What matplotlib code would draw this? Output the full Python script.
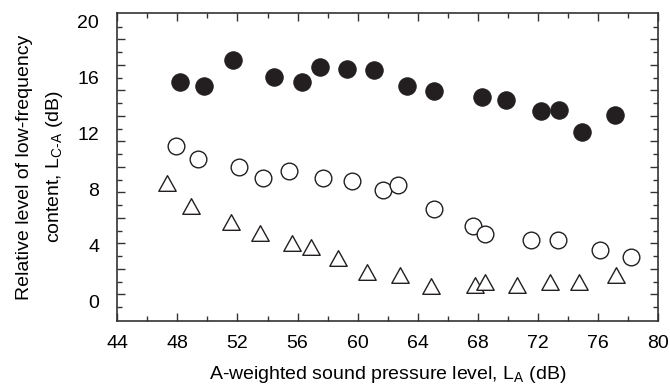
import numpy as np
import matplotlib
matplotlib.use('Agg')
import matplotlib.pyplot as plt
from matplotlib.path import Path

plt.rcParams['font.family'] = ['Liberation Sans', 'DejaVu Sans']
plt.rcParams['mathtext.fontset'] = 'custom'
plt.rcParams['mathtext.rm'] = 'Liberation Sans'
plt.rcParams['mathtext.it'] = 'Liberation Sans'

# filled circles
la_filled = [48.2, 49.8, 51.7, 54.4, 56.3, 57.5, 59.3, 61.1, 63.3, 65.1, 68.3, 69.9, 72.2, 73.4, 74.9, 77.1]
lca_filled = [15.7, 15.4, 17.2, 16.0, 15.7, 16.7, 16.6, 16.5, 15.4, 15.0, 14.6, 14.4, 13.6, 13.7, 12.1, 13.3]

# open circles
la_open = [47.9, 49.4, 52.1, 53.7, 55.4, 57.7, 59.6, 61.7, 62.7, 65.1, 67.7, 68.5, 71.5, 73.3, 76.1, 78.2]
lca_open = [11.1, 10.2, 9.6, 8.8, 9.3, 8.8, 8.6, 8.0, 8.3, 6.6, 5.4, 4.8, 4.4, 4.4, 3.7, 3.2]

# open triangles
la_tri = [47.3, 48.9, 51.6, 53.5, 55.6, 56.9, 58.7, 60.6, 62.8, 64.9, 67.8, 68.5, 70.6, 72.8, 74.7, 77.2]
lca_tri = [8.5, 6.8, 5.7, 4.9, 4.2, 3.9, 3.1, 2.1, 1.9, 1.1, 1.2, 1.4, 1.2, 1.4, 1.4, 1.9]

x_ticks = list(range(44, 81, 4))
y_ticks = list(range(0, 21, 4))

ink = '#231f20'
tri = Path([(-1, -0.9), (1, -0.9), (0, 0.9), (-1, -0.9)], closed=True)

fig = plt.figure(figsize=(6.7, 3.85), dpi=100)
ax = fig.add_axes([0.175, 0.167, 0.8075, 0.7984])

ax.plot(la_filled, lca_filled, 'o', ms=12.5, mfc=ink, mec=ink, mew=0.8, ls='none')
ax.plot(la_open, lca_open, 'o', ms=12, mfc='white', mec=ink, mew=1.0, ls='none')
ax.plot(la_tri, lca_tri, marker=tri, ms=12.5, mfc='white', mec=ink, mew=1.0, ls='none')

ax.set_xlim(44, 80)
ax.set_ylim(-1.35, 20.56)

for s in ax.spines.values():
    s.set_linewidth(1.2)
    s.set_color('#333333')

# x ticks: inward, both top and bottom
ax.set_xticks(x_ticks)
ax.set_xticks(np.arange(44, 81, 2), minor=True)
ax.tick_params(axis='x', which='both', direction='in', top=True, bottom=True,
               labelsize=14, pad=10, color='#333333', width=1.0)
ax.tick_params(axis='x', which='major', length=6)
ax.tick_params(axis='x', which='minor', length=3.5)

# y tick marks (the original marks sit on their own spacing)
step = 1.8175
long_marks = 0.53 + step * np.arange(11)
short_marks = 0.53 - step / 2 + step * np.arange(12)
ax.set_yticks(long_marks)
ax.set_yticks(short_marks, minor=True)
ax.tick_params(axis='y', which='both', direction='in', left=True, right=True,
               labelleft=False, color='#333333', width=1.0)
ax.tick_params(axis='y', which='major', length=6)
ax.tick_params(axis='y', which='minor', length=3.5)

# y tick labels
sec = ax.secondary_yaxis('left')
sec.set_yticks(y_ticks)
sec.tick_params(length=0, labelsize=14, pad=13)
sec.spines['left'].set_visible(False)

ax.set_xlabel(r'A-weighted sound pressure level, L$_{\text{A}}$ (dB)', fontsize=14)
ax.xaxis.set_label_coords(0.5, -0.14)
ax.set_ylabel('Relative level of low-frequency\n' + r'content, L$_{\text{C-A}}$ (dB)',
              fontsize=14, linespacing=1.7, multialignment='center')
ax.yaxis.set_label_coords(-0.097, 0.5)

fig.savefig('out.png', dpi=100)
